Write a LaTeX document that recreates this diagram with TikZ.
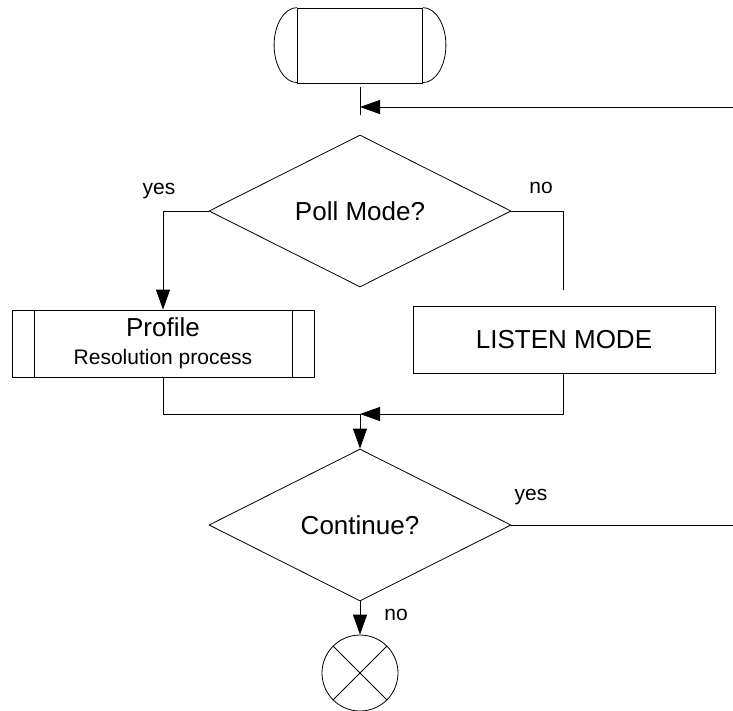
\documentclass[tikz,border=0pt]{standalone}
\usepackage{fontspec}
\setmainfont{Liberation Sans}
\usepackage{tikz}
\usetikzlibrary{arrows.meta,shapes.geometric}

\begin{document}
\begin{tikzpicture}[
  x=1pt, y=-1pt,
  line width=0.8pt,
  big/.style={font=\fontsize{26}{29}\selectfont},
  lbl/.style={font=\fontsize{21}{24}\selectfont, inner sep=0pt},
  box/.style={draw, minimum width=302pt, minimum height=67pt, inner sep=0pt, align=center},
  dec/.style={draw, diamond, aspect=2, minimum width=302pt, minimum height=152pt, inner sep=0pt, big},
  arr/.style={-{Triangle[length=20pt, width=14pt]}}
]
\useasboundingbox (0,0) rectangle (733,710);

% terminal
\node[draw, minimum width=125pt, minimum height=75pt, inner sep=0pt] (start) at (360,45.5) {};
\draw (start.north west) arc[start angle=-90, end angle=-270, x radius=23, y radius=37.5];
\draw (start.north east) arc[start angle=-90, end angle=90, x radius=23, y radius=37.5];
\coordinate (tickTop) at (360,87);
\coordinate (tickBot) at (360,115);
\coordinate (tick) at (360,107);
\coordinate (loopIn) at (733,107);
\draw (tickTop) -- (tickBot);
\draw[arr] (loopIn) -- (tick);

% decisions and boxes
\node[dec] (poll) at (360,211) {Poll Mode?};
\node[box, big] (profile) at (163,343.5) {Profile\\[-1pt]{\fontsize{21}{24}\selectfont Resolution process}};
\draw ([xshift=22.5pt]profile.north west) -- ([xshift=22.5pt]profile.south west);
\draw ([xshift=-22.5pt]profile.north east) -- ([xshift=-22.5pt]profile.south east);
\node[box, big] (listen) at (564,339.5) {LISTEN MODE};
\node[dec] (cont) at (360,525) {Continue?};
\node[draw, circle, minimum size=76pt, inner sep=0pt] (stop) at (360,673) {};
\draw (stop.north west) -- (stop.south east);
\draw (stop.north east) -- (stop.south west);

% connectors
\coordinate (noEnd) at (563,290);
\coordinate (merge) at (360,414);
\coordinate (yesEnd) at (733,525);
\draw[arr] (poll.west) -| (profile.north);
\draw (poll.east) -| (noEnd);
\draw (profile.south) |- (merge);
\draw[arr] (listen.south -| noEnd) |- (merge);
\draw[arr] (merge) -- (cont.north);
\draw (cont.east) -- (yesEnd);
\draw[arr] (cont.south) -- (stop.north);

% labels
\node[lbl] (yes1) at (159,191) {yes};
\node[lbl] (no1) at (541,188) {no};
\node[lbl] (yes2) at (531,497) {yes};
\node[lbl] (no2) at (396,615) {no};
\end{tikzpicture}
\end{document}
